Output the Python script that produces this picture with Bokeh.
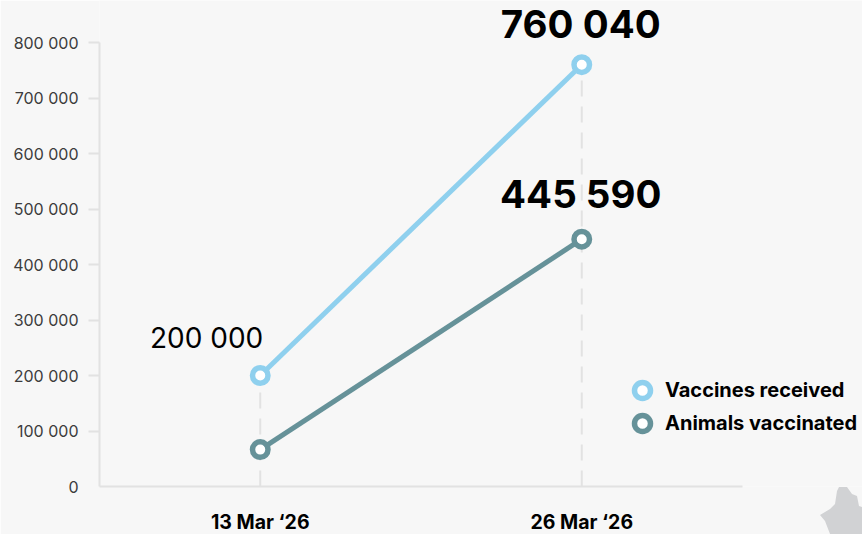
from bokeh.plotting import figure
from bokeh.core.properties import value
from bokeh.models import (ColumnDataSource, Range1d, FixedTicker, LabelSet, Legend, LegendItem, InlineStyleSheet)
from bokeh.embed import file_html
from bokeh.resources import INLINE

dates = ["13 Mar ‘26", "26 Mar ‘26"]
received = [200000, 760040]
vaccinated = [66500, 445590]
received_labels = ["200 000", "760 040"]
vaccinated_labels = ["", "445 590"]
y_label_ticks = [0, 100000, 200000, 300000, 400000, 500000, 600000, 700000, 800000]
y_tick_marks = y_label_ticks[1:]
y_tick_labels = ["0", "100 000", "200 000", "300 000", "400 000", "500 000", "600 000", "700 000", "800 000"]
series_names = ["Vaccines received", "Animals vaccinated"]

BG = "#f7f7f7"; BLUE = "#8fd0ee"; TEAL = "#669299"; AXIS = "#e2e2e2"; FONT = "Inter"
x_pos = [i + 0.5 for i in range(len(dates))]

p = figure(width=862, height=534, output_backend="svg", toolbar_location=None,
           x_range=Range1d(0, 2 * 763 / 643), y_range=Range1d(0, 800000 * 486 / 444),
           background_fill_color=BG, border_fill_color=BG, outline_line_color=None,
           min_border_left=99, min_border_right=0, min_border_top=0, min_border_bottom=48,
           frame_width=763, frame_height=486)
p.grid.visible = False

yax = p.yaxis[0]
yax.ticker = FixedTicker(ticks=y_label_ticks, minor_ticks=y_tick_marks)
yax.major_label_overrides = dict(zip(y_label_ticks, y_tick_labels))
yax.bounds = (0, 800000)
yax.axis_line_color = AXIS; yax.axis_line_width = 2
yax.major_tick_line_color = None; yax.major_tick_out = 11; yax.major_tick_in = 0
yax.minor_tick_line_color = AXIS; yax.minor_tick_line_width = 2; yax.minor_tick_out = 11; yax.minor_tick_in = 0
yax.major_label_text_font = FONT; yax.major_label_text_font_size = "16px"
yax.major_label_text_color = "#3c3c3c"; yax.major_label_standoff = 10

xax = p.xaxis[0]
xax.ticker = FixedTicker(ticks=x_pos)
xax.major_label_overrides = dict(zip(x_pos, dates))
xax.bounds = (0, 2)
xax.axis_line_color = AXIS; xax.axis_line_width = 2
xax.major_tick_line_color = None; xax.minor_tick_line_color = None
xax.major_tick_out = 0; xax.major_tick_in = 0
xax.major_label_text_font = FONT; xax.major_label_text_font_size = "19.5px"
xax.major_label_text_font_style = "bold"; xax.major_label_text_color = "#000000"
xax.major_label_standoff = 23

src = ColumnDataSource(dict(x=x_pos, received=received, vaccinated=vaccinated, base=[0, 0]))
p.segment("x", "base", "x", "received", source=src, line_color=AXIS, line_width=2, line_dash="16 10")
p.line("x", "received", source=src, line_color=BLUE, line_width=5)
p.line("x", "vaccinated", source=src, line_color=TEAL, line_width=5)
r1 = p.scatter("x", "received", source=src, size=15.5, fill_color="white", line_color=BLUE, line_width=5.5)
r2 = p.scatter("x", "vaccinated", source=src, size=15.5, fill_color="white", line_color=TEAL, line_width=5.5)

for name, rend, ly in [(series_names[0], r1, 76), (series_names[1], r2, 43)]:
    p.add_layout(Legend(items=[LegendItem(label=name, renderers=[rend])],
                        location=(523, ly), border_line_color=None, background_fill_alpha=0,
                        label_text_font=FONT, label_text_font_size="20px", label_text_font_style="bold",
                        label_text_color="#000000", glyph_height=40, glyph_width=40, spacing=0, margin=0,
                        padding=0, label_standoff=3), "center")

first_src = ColumnDataSource(dict(x=x_pos[:1], y=received[:1], t=received_labels[:1]))
p.add_layout(LabelSet(x="x", y="y", text="t", source=first_src, x_offset=3, y_offset=21,
                      text_align="right", text_baseline="bottom", text_font=value(FONT), text_font_size=value("28px"), text_color="#000000"))
for i, off in [(0, 18), (1, 22)]:
    big_src = ColumnDataSource(dict(x=x_pos[1:], y=[[received[1]], [vaccinated[1]]][i],
                                    t=[[received_labels[1]], [vaccinated_labels[1]]][i]))
    p.add_layout(LabelSet(x="x", y="y", text="t", source=big_src, x_offset=-1, y_offset=off, text_align="center", text_baseline="bottom",
                          text_font=value(FONT), text_font_size=value("38.5px"), text_font_style="bold", text_color="#000000"))

# Grey corner shape of the backdrop, outside the plot frame, so it is drawn by the page's stylesheet
blob = [(820, 515), (830, 509), (835, 504), (837, 491), (839, 487), (847, 487), (852, 494), (857, 496),
        (859, 506), (862, 507), (862, 534), (830, 534), (825, 521)]
poly = ", ".join(f"{x - 820}px {y - 487}px" for x, y in blob)
p.stylesheets = [InlineStyleSheet(css=f":host::after {{ content: ''; position: absolute; left: 820px; top: 487px; "
                                      f"width: 42px; height: 47px; background: #d1d2d4; clip-path: polygon({poly}); }}")]

open("out.html", "w").write(file_html(p, INLINE))
